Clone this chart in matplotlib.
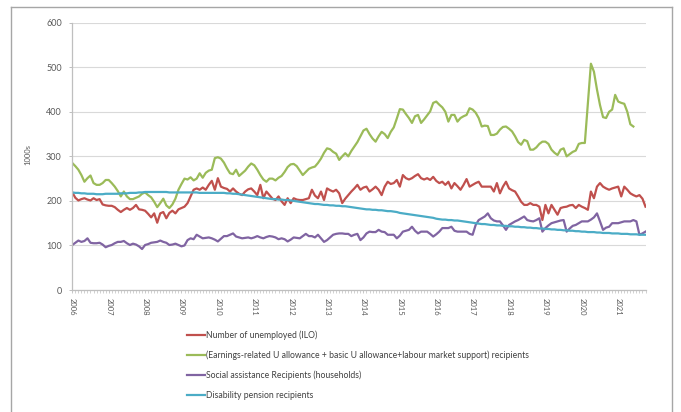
import matplotlib
matplotlib.use("Agg")
import matplotlib.pyplot as plt
from matplotlib.lines import Line2D
import numpy as np

# Monthly series, Jan 2006 onwards (thousands)
unemployed_ilo = [
    219, 207, 201, 204, 206, 203, 201, 206, 202, 204, 192, 190,   # 2006
    189, 189, 186, 180, 175, 180, 184, 180, 184, 191, 181, 180,   # 2007
    178, 171, 163, 172, 151, 172, 175, 161, 173, 178, 172, 181,   # 2008
    184, 187, 195, 210, 225, 228, 225, 230, 225, 236, 245, 225,   # 2009
    251, 232, 229, 227, 221, 228, 221, 216, 213, 221, 226, 228,   # 2010
    221, 213, 236, 206, 221, 213, 205, 202, 210, 199, 191, 206,   # 2011
    195, 206, 203, 202, 202, 204, 206, 225, 212, 206, 221, 202,   # 2012
    228, 224, 221, 225, 217, 195, 205, 213, 221, 228, 236, 225,   # 2013
    230, 232, 221, 226, 232, 225, 213, 232, 243, 238, 240, 247,   # 2014
    232, 258, 251, 248, 251, 256, 260, 251, 248, 251, 247, 254,   # 2015
    245, 240, 243, 236, 243, 228, 240, 233, 225, 236, 249, 232,   # 2016
    236, 240, 243, 232, 232, 232, 232, 221, 240, 217, 232, 243,   # 2017
    228, 224, 221, 210, 198, 191, 191, 195, 191, 191, 187, 157,   # 2018
    191, 172, 191, 180, 169, 184, 186, 187, 190, 191, 184, 191,   # 2019
    187, 184, 180, 221, 206, 232, 240, 232, 228, 225, 228, 230,   # 2020
    232, 210, 232, 225, 217, 213, 210, 213, 205, 187,             # 2021
]

u_allowance = [
    285, 278, 270, 258, 243, 251, 257, 240, 236, 236, 240, 247,   # 2006
    247, 240, 232, 222, 210, 221, 210, 204, 204, 207, 210, 216,   # 2007
    219, 213, 208, 198, 186, 195, 205, 190, 184, 192, 205, 225,   # 2008
    238, 250, 248, 253, 246, 250, 262, 252, 263, 268, 270, 296,   # 2009
    298, 295, 286, 273, 262, 260, 270, 256, 262, 268, 277, 284,   # 2010
    280, 270, 258, 248, 243, 250, 250, 246, 252, 256, 265, 276,   # 2011
    282, 283, 278, 268, 258, 265, 272, 275, 277, 285, 295, 308,   # 2012
    318, 316, 310, 306, 292, 300, 307, 300, 312, 322, 332, 345,   # 2013
    358, 362, 350, 340, 333, 345, 355, 350, 341, 355, 365, 385,   # 2014
    406, 405, 395, 386, 375, 390, 393, 375, 383, 392, 401, 420,   # 2015
    423, 416, 410, 400, 378, 393, 393, 378, 386, 390, 393, 408,   # 2016
    405, 398, 386, 367, 369, 368, 348, 348, 351, 360, 366, 367,   # 2017
    362, 356, 345, 332, 326, 337, 334, 315, 315, 320, 328, 333,   # 2018
    333, 328, 315, 308, 303, 315, 318, 300, 305, 310, 313, 328,   # 2019
    330, 330, 420, 508, 490, 450, 415, 388, 386, 400, 405, 438,   # 2020
    423, 420, 418, 400, 372, 367,                                 # 2021
]

social_assistance = [
    101, 106, 111, 108, 110, 116, 106, 105, 105, 106, 102, 96,    # 2006
    99, 101, 105, 108, 108, 110, 105, 101, 104, 102, 98, 92,      # 2007
    101, 103, 106, 107, 108, 111, 108, 106, 101, 102, 104, 101,   # 2008
    98, 100, 112, 116, 114, 124, 120, 116, 117, 118, 116, 113,    # 2009
    109, 115, 121, 121, 124, 127, 120, 118, 116, 117, 118, 116,   # 2010
    118, 121, 118, 116, 119, 121, 120, 118, 114, 116, 114, 109,   # 2011
    113, 118, 117, 116, 121, 126, 121, 121, 118, 124, 116, 108,   # 2012
    112, 118, 124, 126, 127, 127, 126, 126, 121, 124, 126, 112,   # 2013
    118, 127, 131, 130, 130, 135, 131, 130, 124, 124, 124, 116,   # 2014
    122, 131, 133, 135, 142, 133, 127, 131, 131, 131, 126, 120,   # 2015
    125, 131, 139, 139, 139, 142, 133, 131, 131, 131, 131, 126,   # 2016
    124, 146, 157, 161, 165, 172, 161, 156, 154, 154, 145, 135,   # 2017
    146, 150, 154, 157, 161, 165, 157, 155, 154, 157, 161, 131,   # 2018
    139, 145, 150, 152, 154, 156, 157, 131, 138, 144, 146, 150,   # 2019
    154, 154, 154, 158, 163, 172, 154, 135, 140, 142, 150, 150,   # 2020
    150, 152, 154, 154, 154, 157, 154, 124, 127, 131,             # 2021
]

disability_pension = [
    219, 218, 218, 217, 217, 216, 216, 216, 215, 215, 215, 216,   # 2006
    216, 216, 216, 216, 217, 217, 217, 218, 218, 218, 219, 219,   # 2007
    220, 220, 220, 220, 220, 220, 220, 220, 219, 219, 219, 219,   # 2008
    219, 219, 219, 219, 219, 219, 218, 218, 218, 218, 218, 218,   # 2009
    218, 218, 218, 217, 217, 216, 216, 215, 214, 213, 212, 211,   # 2010
    210, 209, 208, 207, 206, 205, 204, 204, 203, 203, 202, 202,   # 2011
    201, 200, 199, 198, 197, 196, 195, 194, 193, 193, 192, 191,   # 2012
    191, 190, 190, 189, 189, 188, 188, 187, 186, 185, 184, 183,   # 2013
    182, 181, 181, 180, 180, 179, 179, 178, 177, 177, 176, 175,   # 2014
    173, 172, 171, 170, 169, 168, 167, 166, 165, 164, 163, 162,   # 2015
    160, 159, 158, 158, 157, 157, 156, 156, 155, 154, 153, 152,   # 2016
    151, 150, 149, 148, 148, 147, 146, 146, 145, 145, 144, 144,   # 2017
    143, 143, 142, 142, 141, 141, 140, 140, 139, 139, 138, 138,   # 2018
    137, 137, 136, 136, 135, 135, 134, 134, 133, 133, 132, 132,   # 2019
    131, 131, 130, 130, 130, 129, 129, 128, 128, 128, 127, 127,   # 2020
    127, 126, 126, 126, 125, 125, 125, 124, 124, 124,             # 2021
]

years = list(range(2006, 2022))
series_labels = [
    "Number of unemployed (ILO)",
    "(Earnings-related U allowance + basic U allowance+labour market support) recipients",
    "Social assistance Recipients (households)",
    "Disability pension recipients",
]
series_colors = ["#C0504D", "#9BBB59", "#8064A2", "#4BACC6"]
y_ticks = [0, 100, 200, 300, 400, 500, 600]

plt.rcParams["font.family"] = ["Lato", "DejaVu Sans"]

W, H = 681, 412
fig = plt.figure(figsize=(W / 100, H / 100), dpi=100)

# frame around the chart area (left, top and right edges)
frame_kw = dict(transform=fig.transFigure, color="#A6A6A6", lw=1.0)
fig.add_artist(Line2D([10.5 / W, 10.5 / W], [0, 1 - 7 / H], **frame_kw))
fig.add_artist(Line2D([671.5 / W, 671.5 / W], [0, 1 - 7 / H], **frame_kw))
fig.add_artist(Line2D([10.5 / W, 671.5 / W], [1 - 7 / H, 1 - 7 / H], **frame_kw))

left, right, top, bottom = 72.3, 645.5, 22.7, 290.0
ax = fig.add_axes([left / W, 1 - bottom / H, (right - left) / W, (bottom - top) / H])

n_months = len(unemployed_ilo)
all_series = [unemployed_ilo, u_allowance, social_assistance, disability_pension]
for vals, lab, col in zip(all_series, series_labels, series_colors):
    ax.plot(np.arange(len(vals)), vals, color=col, lw=1.6, label=lab,
            solid_joinstyle="round")

ax.set_xlim(0, n_months - 1)
ax.set_ylim(0, 600)
ax.set_yticks(y_ticks)
ax.set_yticklabels([str(t) for t in y_ticks])
ax.set_xticks([12 * i for i in range(len(years))])
ax.set_xticklabels([str(y) for y in years], rotation=-90, va="top", ha="center")
ax.set_xticks(np.arange(n_months), minor=True)

ax.grid(axis="y", color="#D9D9D9", lw=0.8)
ax.set_axisbelow(True)
for s in ["top", "right"]:
    ax.spines[s].set_visible(False)
for s in ["left", "bottom"]:
    ax.spines[s].set_color("#BFBFBF")
    ax.spines[s].set_linewidth(0.9)

ax.tick_params(axis="y", length=2.5, width=0.7, color="#BFBFBF", pad=5,
               labelsize=6.5, labelcolor="#595959")
ax.tick_params(axis="x", which="major", length=2.5, width=0.6, color="#BFBFBF",
               pad=3, labelsize=5.5, labelcolor="#595959")
ax.tick_params(axis="x", which="minor", length=2.5, width=0.5, color="#BFBFBF")

fig.text(28 / W, 1 - 155 / H, "1000s", rotation=90, ha="center", va="center",
         fontsize=5.5, color="#595959")

fig.legend(loc="upper left", bbox_to_anchor=(187.5 / W, 1 - 330.5 / H),
           frameon=False, fontsize=6.2, handlelength=2.0, handletextpad=0.2,
           labelspacing=1.24, borderpad=0, borderaxespad=0, labelcolor="#404040")

fig.savefig("out.png", dpi=100)
